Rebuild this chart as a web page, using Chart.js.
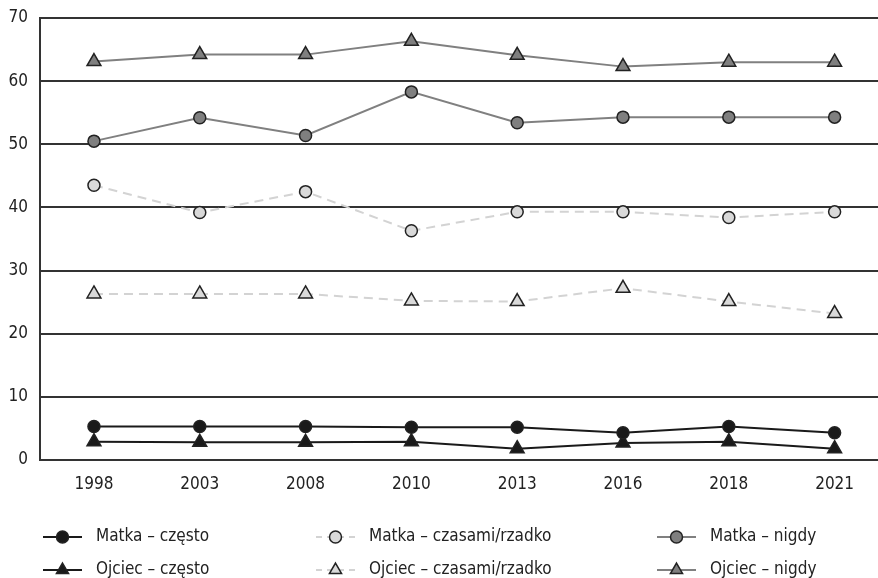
<!DOCTYPE html>
<html lang="pl">
  <head>
    <meta charset="UTF-8" />
    <title>Matka / Ojciec</title>
    <script src="https://cdn.jsdelivr.net/npm/chart.js@4.4.0/dist/chart.umd.min.js"></script>
    <style>
      html, body { margin: 0; padding: 0; background: #ffffff; }
      .chart-container { width: 878px; height: 578px; position: relative; }
    </style>
  </head>
  <body>
    <div class="chart-container">
      <canvas id="lineChart"></canvas>
    </div>
    <script>
      const years = ["1998", "2003", "2008", "2010", "2013", "2016", "2018", "2021"];

      const matkaCzesto = [5.3, 5.3, 5.3, 5.2, 5.2, 4.3, 5.3, 4.3];
      const ojciecCzesto = [2.9, 2.8, 2.8, 2.9, 1.8, 2.7, 2.9, 1.8];
      const matkaCzasami = [43.5, 39.2, 42.5, 36.3, 39.3, 39.3, 38.4, 39.3];
      const ojciecCzasami = [26.3, 26.3, 26.3, 25.2, 25.1, 27.2, 25.1, 23.2];
      const matkaNigdy = [50.5, 54.2, 51.4, 58.3, 53.4, 54.3, 54.3, 54.3];
      const ojciecNigdy = [63.1, 64.2, 64.2, 66.3, 64.1, 62.3, 63.0, 63.0];

      const yTicks = [0, 10, 20, 30, 40, 50, 60, 70];

      const FONT = "'Liberation Sans Narrow', 'DejaVu Sans Condensed', 'Liberation Sans', sans-serif";
      const EDGE = "#222222";

      function toPoints(values) {
        return values.map((v, i) => ({ x: i, y: v }));
      }

      function series(label, values, shape, fill, line, dash) {
        return {
          label: label,
          data: toPoints(values),
          borderColor: line,
          borderWidth: 2,
          borderDash: dash,
          backgroundColor: fill,
          pointStyle: shape,
          pointRadius: shape === "triangle" ? 8 : 6,
          pointBackgroundColor: fill,
          pointBorderColor: EDGE,
          pointBorderWidth: 1.5,
          tension: 0,
        };
      }

      // order in legend: row-major, 3 columns
      const datasets = [
        series("Matka – często", matkaCzesto, "circle", "#1a1a1a", "#1a1a1a", []),
        series("Matka – czasami/rzadko", matkaCzasami, "circle", "#d9d9d9", "#d3d3d3", [9, 6]),
        series("Matka – nigdy", matkaNigdy, "circle", "#7f7f7f", "#808080", []),
        series("Ojciec – często", ojciecCzesto, "triangle", "#1a1a1a", "#1a1a1a", []),
        series("Ojciec – czasami/rzadko", ojciecCzasami, "triangle", "#d9d9d9", "#d3d3d3", [9, 6]),
        series("Ojciec – nigdy", ojciecNigdy, "triangle", "#7f7f7f", "#808080", []),
      ];

      // legend drawn on the canvas in a 3x2 grid
      const gridLegend = {
        id: "gridLegend",
        afterDraw(chart) {
          const ctx = chart.ctx;
          const colX = [43, 316, 657];
          const rowY = [537, 570];
          ctx.save();
          chart.data.datasets.forEach((ds, i) => {
            const x = colX[i % 3];
            const y = rowY[Math.floor(i / 3)];
            ctx.strokeStyle = ds.borderColor;
            ctx.lineWidth = 2;
            ctx.setLineDash(ds.borderDash.length ? [6, 5] : []);
            ctx.beginPath();
            ctx.moveTo(x, y);
            ctx.lineTo(x + 39, y);
            ctx.stroke();
            ctx.setLineDash([]);
            ctx.fillStyle = ds.pointBackgroundColor;
            ctx.strokeStyle = EDGE;
            ctx.lineWidth = 1.5;
            Chart.helpers.drawPoint(ctx, {
              pointStyle: ds.pointStyle,
              radius: ds.pointStyle === "triangle" ? 7 : 6,
              rotation: 0,
              borderWidth: 1.5,
            }, x + 19.5, y);
            ctx.fillStyle = "#222222";
            ctx.font = "17px " + FONT;
            ctx.textAlign = "left";
            ctx.textBaseline = "middle";
            ctx.fillText(ds.label, x + 53, y);
          });
          ctx.restore();
        },
      };

      const options = {
        responsive: true,
        maintainAspectRatio: false,
        animation: false,
        layout: { autoPadding: false, padding: { top: 18, right: 0, bottom: 80, left: 0 } },
        plugins: {
          legend: { display: false },
          tooltip: { enabled: false },
        },
        scales: {
          x: {
            type: "linear",
            min: -0.51,
            max: 7.41,
            grid: { display: false, drawTicks: false },
            border: { display: false },
            ticks: {
              stepSize: 1,
              includeBounds: false,
              padding: 14,
              color: "#222222",
              font: { family: FONT, size: 17 },
              callback: (v) => (Number.isInteger(v) ? years[v] : ""),
            },
            afterFit: (scale) => {
              scale.height = 38;
              scale.paddingLeft = 0;
              scale.paddingRight = 0;
            },
          },
          y: {
            min: 0,
            max: 70,
            grid: { color: "#333333", lineWidth: 2, drawTicks: false },
            border: { display: true, color: "#333333", width: 2 },
            ticks: {
              stepSize: 10,
              padding: 12,
              color: "#222222",
              font: { family: FONT, size: 17 },
              callback: (v) => (yTicks.includes(v) ? v : ""),
            },
            afterFit: (scale) => {
              scale.width = 40;
              scale.paddingTop = 0;
              scale.paddingBottom = 0;
            },
          },
        },
      };

      const lineChart = new Chart(document.getElementById("lineChart"), {
        type: "line",
        data: { datasets: datasets },
        options: options,
        plugins: [gridLegend],
      });
    </script>
  </body>
</html>
